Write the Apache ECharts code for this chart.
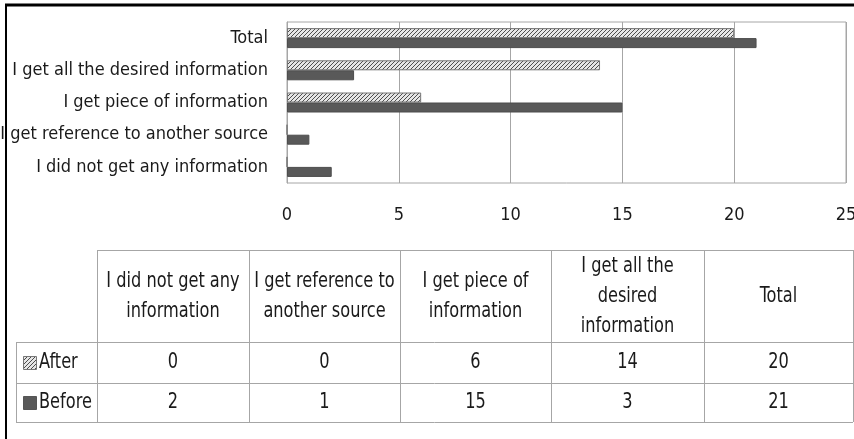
<!DOCTYPE html>
<html>
<head>
<meta charset="utf-8">
<script src="https://cdn.jsdelivr.net/npm/echarts@6/dist/echarts.min.js"></script>
<style>
html, body { margin: 0; padding: 0; background: #fff; }
#chart-container { width: 854px; height: 439px; }
</style>
</head>
<body>
<div id="chart-container"></div>
<script>
// data
var categories = [
    'I did not get any information',
    'I get reference to another source',
    'I get piece of information',
    'I get all the desired information',
    'Total'
];
var headerLabels = [
    'I did not get any\ninformation',
    'I get reference to\nanother source',
    'I get piece of\ninformation',
    'I get all the\ndesired\ninformation',
    'Total'
];
var afterValues = [0, 0, 6, 14, 20];
var beforeValues = [2, 1, 15, 3, 21];
var seriesNames = ['After', 'Before'];

var FONT = "'DejaVu Sans Condensed', sans-serif";
var TEXT = '#1a1a1a';
var LINE = '#a6a6a6';

// hatch tile for the "After" series
var tile = document.createElement('canvas');
tile.width = 4;
tile.height = 4;
var tctx = tile.getContext('2d');
tctx.fillStyle = '#e6e6e6';
tctx.fillRect(0, 0, 4, 4);
tctx.fillStyle = '#4d4d4d';
for (var i = 0; i < 4; i++) {
    tctx.fillRect(i, 3 - i, 1, 1);
}
var hatch = { image: tile, repeat: 'repeat' };

var dom = document.getElementById('chart-container');
var myChart = echarts.init(dom, null, { renderer: 'canvas' });

// data table under the chart
var colEdges = [97, 249, 400, 551, 704, 853];
var tableTop = 250, headBottom = 342, rowLine = 383, tableBottom = 422;
var labelLeft = 16;

var graphics = [];
function hline(x1, x2, y) {
    graphics.push({ type: 'line', shape: { x1: x1, y1: y, x2: x2, y2: y }, style: { stroke: LINE, lineWidth: 1 }, silent: true });
}
function vline(x, y1, y2) {
    graphics.push({ type: 'line', shape: { x1: x, y1: y1, x2: x, y2: y2 }, style: { stroke: LINE, lineWidth: 1 }, silent: true });
}
function text(str, x, y, align) {
    graphics.push({
        type: 'text', x: x, y: y, scaleY: 1.2, silent: true,
        style: { text: str, fill: TEXT, font: '18px ' + FONT, align: align || 'center', verticalAlign: 'middle', lineHeight: 25 }
    });
}

hline(colEdges[0], colEdges[5], tableTop + 0.5);
hline(labelLeft, colEdges[5], headBottom + 0.5);
hline(labelLeft, colEdges[5], rowLine + 0.5);
hline(labelLeft, colEdges[5], tableBottom + 0.5);
colEdges.forEach(function (x) { vline(x + 0.5, tableTop, tableBottom); });
vline(labelLeft + 0.5, headBottom, tableBottom);

headerLabels.forEach(function (h, k) {
    text(h, (colEdges[k] + colEdges[k + 1]) / 2, (tableTop + headBottom) / 2);
});
afterValues.forEach(function (v, k) {
    text(String(v), (colEdges[k] + colEdges[k + 1]) / 2, (headBottom + rowLine) / 2);
});
beforeValues.forEach(function (v, k) {
    text(String(v), (colEdges[k] + colEdges[k + 1]) / 2, (rowLine + tableBottom) / 2);
});

// legend keys in the row headers
graphics.push({ type: 'rect', shape: { x: 23.5, y: (headBottom + rowLine) / 2 - 6, width: 13, height: 13 }, style: { fill: hatch, stroke: '#777', lineWidth: 1 }, silent: true });
graphics.push({ type: 'rect', shape: { x: 23.5, y: (rowLine + tableBottom) / 2 - 6, width: 13, height: 13 }, style: { fill: '#595959', stroke: '#555', lineWidth: 1 }, silent: true });
text(seriesNames[0], 39, (headBottom + rowLine) / 2, 'left');
text(seriesNames[1], 39, (rowLine + tableBottom) / 2, 'left');

// outer frame
graphics.push({ type: 'line', shape: { x1: 5, y1: 5, x2: 854, y2: 5 }, style: { stroke: '#000', lineWidth: 3 }, silent: true });
graphics.push({ type: 'line', shape: { x1: 6, y1: 4, x2: 6, y2: 439 }, style: { stroke: '#000', lineWidth: 2 }, silent: true });

var option = {
    animation: false,
    grid: {
        left: 287,
        right: 8,
        top: 22,
        bottom: 256,
        outerBoundsMode: 'none',
        show: true,
        borderColor: LINE,
        borderWidth: 1
    },
    xAxis: {
        type: 'value',
        min: 0,
        max: 25,
        interval: 5,
        axisLine: { show: false },
        axisTick: { show: false },
        splitLine: { lineStyle: { color: LINE, width: 1 } },
        axisLabel: { color: TEXT, fontFamily: FONT, fontSize: 18, margin: 23 }
    },
    yAxis: {
        type: 'category',
        data: categories,
        axisLine: { lineStyle: { color: LINE } },
        axisTick: { show: false },
        axisLabel: { color: TEXT, fontFamily: FONT, fontSize: 18, margin: 19 }
    },
    series: [
        {
            name: seriesNames[0],
            type: 'bar',
            data: afterValues,
            barWidth: 10,
            barGap: '0%',
            itemStyle: { color: hatch, borderColor: '#777', borderWidth: 1 }
        },
        {
            name: seriesNames[1],
            type: 'bar',
            data: beforeValues,
            barWidth: 10,
            barGap: '0%',
            itemStyle: { color: '#595959', borderColor: '#4d4d4d', borderWidth: 1 }
        }
    ],
    graphic: graphics
};

myChart.setOption(option);
window.addEventListener('resize', myChart.resize);
</script>
</body>
</html>
